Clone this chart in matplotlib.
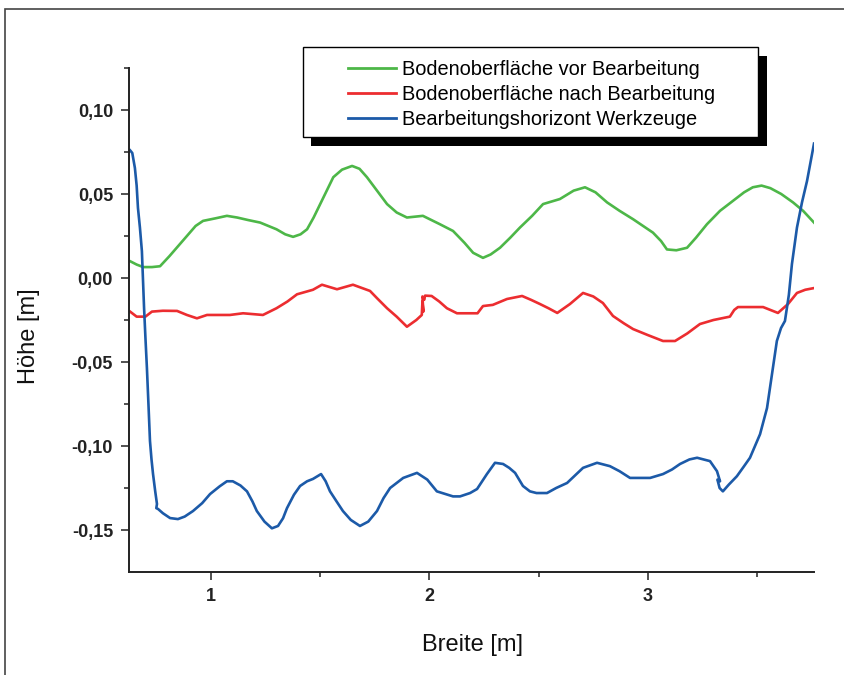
import matplotlib
matplotlib.use("Agg")
import matplotlib.pyplot as plt
from matplotlib.patches import Rectangle
from matplotlib.transforms import IdentityTransform

plt.rcParams['font.family'] = ['Liberation Sans', 'DejaVu Sans']

# ---------------- data ----------------
labels = ["Bodenoberfläche vor Bearbeitung",
          "Bodenoberfläche nach Bearbeitung",
          "Bearbeitungshorizont Werkzeuge"]

green_x = [0.63, 0.66, 0.69, 0.73, 0.767, 0.81, 0.85, 0.89, 0.93, 0.964, 1.02, 1.073, 1.12,
           1.17, 1.225, 1.30, 1.34, 1.376, 1.41, 1.44, 1.47, 1.50, 1.53, 1.56, 1.60, 1.646,
           1.68, 1.714, 1.76, 1.806, 1.85, 1.897, 1.97, 2.048, 2.108, 2.16, 2.20, 2.245,
           2.28, 2.323, 2.37, 2.414, 2.47, 2.52, 2.597, 2.66, 2.712, 2.76, 2.813, 2.87,
           2.932, 3.023, 3.06, 3.087, 3.13, 3.179, 3.22, 3.27, 3.33, 3.39, 3.44, 3.48,
           3.52, 3.56, 3.61, 3.664, 3.71, 3.76]
green_y = [0.010, 0.008, 0.0065, 0.0065, 0.007, 0.013, 0.019, 0.025, 0.031, 0.034, 0.0355,
           0.037, 0.036, 0.0345, 0.033, 0.029, 0.026, 0.0245, 0.026, 0.029, 0.036, 0.044,
           0.052, 0.060, 0.0645, 0.0667, 0.065, 0.060, 0.052, 0.044, 0.039, 0.036, 0.037,
           0.032, 0.028, 0.021, 0.015, 0.012, 0.014, 0.018, 0.024, 0.030, 0.037, 0.044,
           0.047, 0.052, 0.054, 0.051, 0.045, 0.040, 0.035, 0.027, 0.022, 0.017, 0.0165,
           0.018, 0.024, 0.032, 0.040, 0.046, 0.051, 0.054, 0.055, 0.0535, 0.050, 0.045,
           0.040, 0.033]

red_x = [0.63, 0.66, 0.70, 0.73, 0.78, 0.845, 0.89, 0.936, 0.982, 1.087, 1.147, 1.238,
         1.30, 1.35, 1.394, 1.467, 1.508, 1.577, 1.65, 1.728, 1.76, 1.806, 1.85, 1.897,
         1.94, 1.965, 1.968, 1.972, 1.968, 1.976, 1.98, 2.01, 2.045, 2.08, 2.126, 2.186,
         2.22, 2.245, 2.29, 2.355, 2.424, 2.465, 2.506, 2.545, 2.585, 2.643, 2.703,
         2.75, 2.794, 2.84, 2.89, 2.932, 3.00, 3.069, 3.124, 3.18, 3.238, 3.30, 3.375,
         3.395, 3.412, 3.47, 3.527, 3.595, 3.641, 3.682, 3.72, 3.76]
red_y = [-0.020, -0.023, -0.023, -0.020, -0.0195, -0.0196, -0.022, -0.024, -0.022, -0.022,
         -0.021, -0.022, -0.018, -0.014, -0.0097, -0.007, -0.004, -0.0067, -0.004,
         -0.0077, -0.012, -0.018, -0.023, -0.029, -0.025, -0.022, -0.014, -0.020,
         -0.011, -0.013, -0.0105, -0.0107, -0.014, -0.018, -0.021, -0.021, -0.021,
         -0.0167, -0.016, -0.0125, -0.0107, -0.013, -0.0155, -0.018, -0.0208, -0.0155,
         -0.0089, -0.011, -0.0149, -0.0226, -0.027, -0.0304, -0.034, -0.0375, -0.0375,
         -0.033, -0.0274, -0.025, -0.023, -0.019, -0.0173, -0.0173, -0.0173, -0.0208,
         -0.0155, -0.0089, -0.007, -0.006]

blue_x = [0.63, 0.64, 0.652, 0.66, 0.666, 0.675, 0.684, 0.694, 0.70, 0.707, 0.714, 0.721,
          0.728, 0.735, 0.745, 0.753, 0.750, 0.758, 0.78, 0.813, 0.849, 0.88, 0.918,
          0.96, 0.996, 1.04, 1.073, 1.10, 1.135, 1.165, 1.19, 1.21, 1.245, 1.279,
          1.307, 1.33, 1.348, 1.38, 1.408, 1.44, 1.467, 1.504, 1.525, 1.545, 1.575,
          1.604, 1.64, 1.682, 1.72, 1.76, 1.79, 1.82, 1.88, 1.943, 1.99, 2.034, 2.108,
          2.14, 2.186, 2.218, 2.263, 2.30, 2.337, 2.365, 2.392, 2.428, 2.46, 2.49,
          2.538, 2.58, 2.63, 2.703, 2.767, 2.826, 2.87, 2.918, 3.01, 3.069, 3.11,
          3.147, 3.19, 3.225, 3.284, 3.316, 3.33, 3.318, 3.328, 3.343, 3.37, 3.407,
          3.44, 3.467, 3.513, 3.545, 3.568, 3.59, 3.609, 3.627, 3.645, 3.659, 3.682,
          3.705, 3.728, 3.76]
blue_y = [0.076, 0.0744, 0.0655, 0.055, 0.0417, 0.030, 0.016, -0.018, -0.035, -0.0536,
          -0.075, -0.097, -0.108, -0.1167, -0.127, -0.1345, -0.137, -0.1375, -0.140,
          -0.1429, -0.1435, -0.142, -0.1387, -0.134, -0.1286, -0.124, -0.121, -0.121,
          -0.1235, -0.127, -0.133, -0.1387, -0.145, -0.149, -0.1476, -0.143, -0.137,
          -0.129, -0.1238, -0.121, -0.1196, -0.1167, -0.121, -0.127, -0.133, -0.1387,
          -0.144, -0.1476, -0.145, -0.1387, -0.131, -0.125, -0.119, -0.116, -0.120,
          -0.127, -0.130, -0.130, -0.128, -0.1256, -0.1167, -0.110, -0.1107, -0.113,
          -0.116, -0.1238, -0.127, -0.128, -0.128, -0.125, -0.122, -0.113, -0.110,
          -0.112, -0.115, -0.119, -0.119, -0.1167, -0.114, -0.1107, -0.108, -0.107,
          -0.109, -0.115, -0.121, -0.120, -0.125, -0.127, -0.123, -0.118, -0.112,
          -0.107, -0.093, -0.0774, -0.057, -0.0375, -0.0298, -0.0256, -0.010, 0.0083,
          0.030, 0.045, 0.0577, 0.080]

xticks = [1, 2, 3]
xtick_labels = ["1", "2", "3"]
xminor = [1.5, 2.5, 3.5]
yticks = [-0.15, -0.10, -0.05, 0.00, 0.05, 0.10]
ytick_labels = ["-0,15", "-0,10", "-0,05", "0,00", "0,05", "0,10"]
yminor = [-0.125, -0.075, -0.025, 0.025, 0.075, 0.125]

colors = ["#4DB748", "#EC2D30", "#1C5AA8"]

# ---------------- figure ----------------
W, H = 845, 675
fig = plt.figure(figsize=(W / 100, H / 100), dpi=100)
ax = fig.add_axes([129 / W, 1 - 572 / H, (814 - 129) / W, (572 - 68) / H])

ax.plot(green_x, green_y, color=colors[0], lw=1.9, label=labels[0])
ax.plot(red_x, red_y, color=colors[1], lw=1.9, label=labels[1])
ax.plot(blue_x, blue_y, color=colors[2], lw=1.9, label=labels[2])

ax.set_xlim(0.625, 3.76)
ax.set_ylim(-0.175, 0.125)

for s in ["top", "right"]:
    ax.spines[s].set_visible(False)
for s in ["left", "bottom"]:
    ax.spines[s].set_linewidth(1.4)
    ax.spines[s].set_color("#222222")

ax.set_xticks(xticks, xtick_labels)
ax.set_xticks(xminor, minor=True)
ax.set_yticks(yticks, ytick_labels)
ax.set_yticks(yminor, minor=True)
ax.tick_params(which="major", direction="out", length=5.5, width=1.1, color="#222222",
               labelsize=13, pad=6)
ax.tick_params(which="minor", direction="out", length=3.5, width=1.1, color="#222222")
for t in ax.get_xticklabels() + ax.get_yticklabels():
    t.set_fontweight("bold")
    t.set_color("#222222")

ax.set_xlabel("Breite [m]", fontsize=17, color="#111111")
ax.set_ylabel("Höhe [m]", fontsize=17, color="#111111")
ax.xaxis.set_label_coords((473 - 129) / (814 - 129), (572 - 634) / (572 - 68))
ax.yaxis.set_label_coords((40 - 129) / (814 - 129), (572 - 336) / (572 - 68))

# legend (frame and shadow drawn in pixel coordinates)
leg = ax.legend(loc="upper left", bbox_to_anchor=(348 / W, 1 - 60 / H),
                bbox_transform=fig.transFigure, frameon=False, fontsize=14.4,
                borderpad=0, borderaxespad=0, handlelength=2.4, handletextpad=0.3,
                labelspacing=0.3)
for lh in leg.get_lines():
    lh.set_linewidth(2.0)
leg.set_zorder(10)

shadow = Rectangle((311, H - 146), 456, 90, transform=IdentityTransform(),
                   facecolor="black", edgecolor="none", zorder=8, clip_on=False)
frame = Rectangle((303, H - 137), 455, 90, transform=IdentityTransform(),
                  facecolor="white", edgecolor="black", lw=1.0, zorder=9, clip_on=False)
ax.add_artist(shadow)
ax.add_artist(frame)

# outer image border
fig.add_artist(Rectangle((5 / W, -0.1), 2.0, 1.1 - 9 / H, transform=fig.transFigure,
                         fill=False, edgecolor="#444444", lw=1.2))

fig.savefig("out.png", dpi=100)
